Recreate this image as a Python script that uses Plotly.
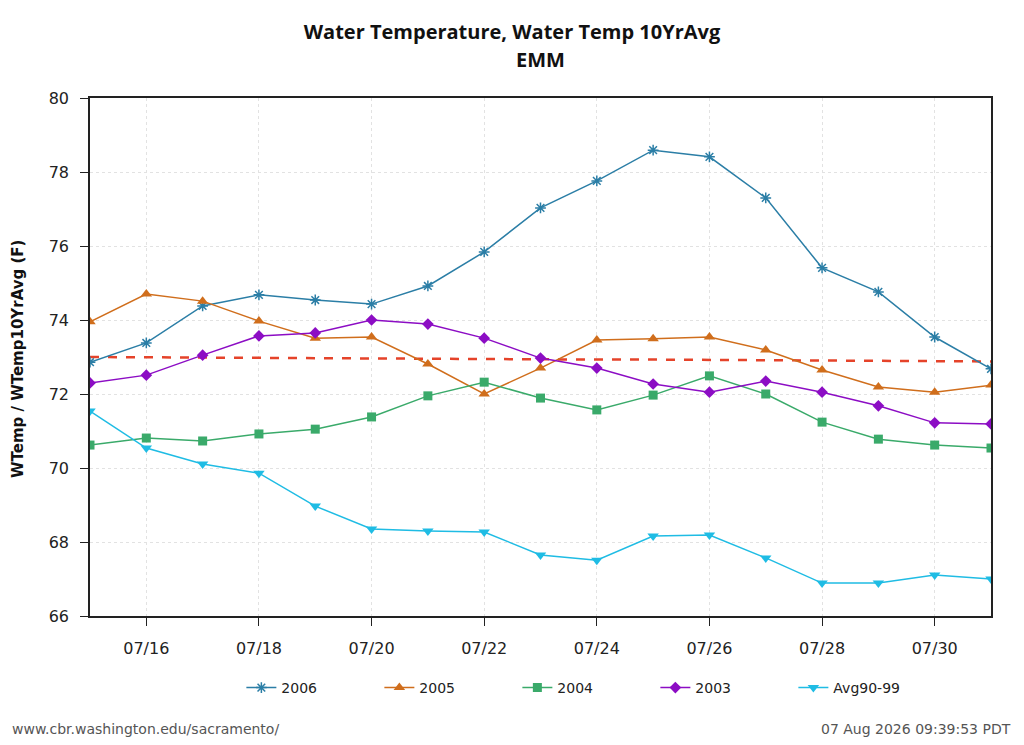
import plotly.graph_objects as go
import pandas as pd

# --- data ---
dates = pd.date_range('2006-07-15', '2006-07-31', freq='D')

wtemp_2006 = [72.86, 73.38, 74.38, 74.68, 74.54, 74.43, 74.92, 75.84, 77.03, 77.76, 78.59, 78.41, 77.30, 75.41, 74.76, 73.54, 72.68]
wtemp_2005 = [73.95, 74.70, 74.51, 73.97, 73.51, 73.54, 72.81, 72.00, 72.70, 73.46, 73.49, 73.54, 73.19, 72.65, 72.19, 72.05, 72.24]
wtemp_2004 = [70.62, 70.81, 70.73, 70.92, 71.05, 71.38, 71.95, 72.32, 71.89, 71.57, 71.97, 72.49, 72.00, 71.24, 70.78, 70.62, 70.54]
wtemp_2003 = [72.30, 72.51, 73.05, 73.57, 73.65, 74.00, 73.89, 73.51, 72.97, 72.70, 72.27, 72.05, 72.35, 72.05, 71.68, 71.22, 71.19]
wtemp_avg9099 = [71.54, 70.54, 70.11, 69.86, 68.97, 68.35, 68.30, 68.27, 67.65, 67.51, 68.16, 68.19, 67.57, 66.89, 66.89, 67.11, 67.00]
wtemp_10yravg = [73.00, 72.99, 72.99, 72.98, 72.97, 72.96, 72.96, 72.95, 72.94, 72.93, 72.93, 72.92, 72.91, 72.90, 72.90, 72.89, 72.88]

series = [
	('2006', wtemp_2006, '#2b7ea6', 'asterisk-open', 9),
	('2005', wtemp_2005, '#d06e1c', 'triangle-up', 10),
	('2004', wtemp_2004, '#3aaa6a', 'square', 9),
	('2003', wtemp_2003, '#8c0dc4', 'diamond', 9),
	('Avg90-99', wtemp_avg9099, '#1fbce4', 'triangle-down', 10),
]

fig = go.Figure()

fig.add_trace(go.Scatter(
	x = dates,
	y = wtemp_10yravg,
	mode = 'lines',
	line = dict(color = '#e5432a', width = 2.5, dash = 'dash'),
	showlegend = False,
	name = '10YrAvg',
))

for name, values, color, symbol, size in series:
	fig.add_trace(go.Scatter(
		x = dates,
		y = values,
		mode = 'lines+markers',
		name = name,
		line = dict(color = color, width = 1.5),
		marker = dict(
			symbol = symbol,
			size = size,
			color = color,
			line = dict(color = color, width = 1.5 if symbol == 'asterisk-open' else 0),
		),
	))

footer_font = dict(family = 'DejaVu Sans', size = 14, color = '#555555')

fig.update_layout(
	width = 1008,
	height = 729,
	margin = dict(l = 82, r = 25, t = 90, b = 121),
	paper_bgcolor = 'white',
	plot_bgcolor = 'white',
	font = dict(family = 'DejaVu Sans', size = 16, color = '#222222'),
	title = dict(
		text = '<b>Water Temperature, Water Temp 10YrAvg</b>',
		x = 0.5,
		xanchor = 'center',
		y = 1 - 24/729,
		yanchor = 'middle',
		font = dict(family = 'Open Sans', size = 20, color = '#111111'),
	),
	legend = dict(
		orientation = 'h',
		x = 0.168,
		xanchor = 'left',
		y = -0.139,
		yanchor = 'middle',
		font = dict(size = 14, color = '#222222'),
		entrywidth = 93,
		entrywidthmode = 'pixels',
		traceorder = 'normal',
	),
	annotations = [
		dict(
			text = '<b>EMM</b>',
			xref = 'paper', yref = 'paper',
			x = 0.5, y = 1 + 38/518,
			xanchor = 'center', yanchor = 'middle',
			showarrow = False,
			font = dict(family = 'Open Sans', size = 20, color = '#111111'),
		),
		dict(
			text = '<b>WTemp / WTemp10YrAvg (F)</b>',
			xref = 'paper', yref = 'paper',
			x = -0.0799, y = 0.496,
			xanchor = 'center', yanchor = 'middle',
			textangle = -90,
			showarrow = False,
			font = dict(family = 'DejaVu Sans', size = 15, color = '#111111'),
		),
		dict(
			text = 'www.cbr.washington.edu/sacramento/',
			xref = 'paper', yref = 'paper',
			x = -0.0888, y = -0.218,
			xanchor = 'left', yanchor = 'middle',
			showarrow = False,
			font = footer_font,
		),
		dict(
			text = '07 Aug 2026 09:39:53 PDT',
			xref = 'paper', yref = 'paper',
			x = 1.0244, y = -0.218,
			xanchor = 'right', yanchor = 'middle',
			showarrow = False,
			font = footer_font,
		),
	],
)

fig.update_xaxes(
	type = 'date',
	range = ['2006-07-15', '2006-07-31'],
	tick0 = '2006-07-16',
	dtick = 2 * 86400000,
	tickformat = '%m/%d',
	ticks = 'outside',
	ticklen = 8,
	tickcolor = '#222222',
	ticklabelstandoff = 9,
	showline = True,
	linecolor = '#222222',
	linewidth = 1.5,
	mirror = True,
	showgrid = True,
	gridcolor = '#e2e2e2',
	griddash = 'dot',
	zeroline = False,
)

fig.update_yaxes(
	range = [66, 80],
	dtick = 2,
	ticks = 'outside',
	ticklen = 8,
	tickcolor = '#222222',
	ticklabelstandoff = 8,
	showline = True,
	linecolor = '#222222',
	linewidth = 1.5,
	mirror = True,
	showgrid = True,
	gridcolor = '#e2e2e2',
	griddash = 'dot',
	zeroline = False,
)

fig.write_html('out.html')
